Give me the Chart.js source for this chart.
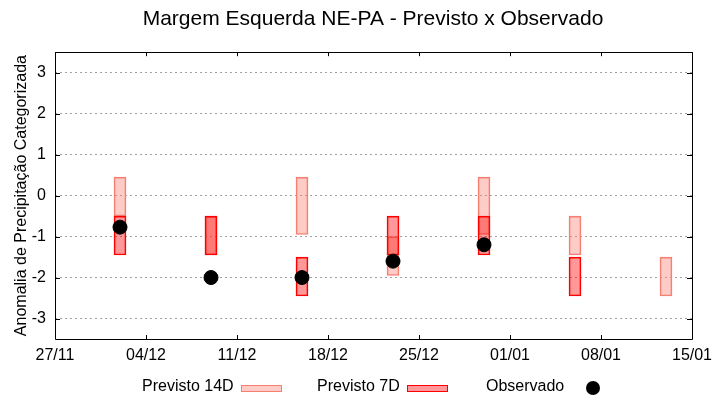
<!DOCTYPE html>
<html>
<head>
<meta charset="utf-8">
<script src="https://cdn.jsdelivr.net/npm/chart.js@4/dist/chart.umd.min.js"></script>
<style>
	body { margin: 0; background: #fff; }
	#grafico { display: block; }
</style>
</head>
<body>
<canvas id="grafico" width="720" height="400"></canvas>
<script>
// eixo x: dias desde 27/11
const rotulosX = ['27/11', '04/12', '11/12', '18/12', '25/12', '01/01', '08/01', '15/01'];
const ticksY = [-3, -2, -1, 0, 1, 2, 3];

const datas = ['02/12', '09/12', '16/12', '23/12', '30/12', '06/01', '13/01'];
const previsto14D = [[-0.5, 0.45], [-1.45, -0.5], [-0.95, 0.45], [-1.95, -1.0], [-0.95, 0.45], [-1.45, -0.5], [-2.45, -1.5]];
const previsto7D = [[-1.45, -0.5], [-1.45, -0.5], [-2.45, -1.5], [-1.45, -0.5], [-1.45, -0.5], [-2.45, -1.5], null];
const observado = [-0.77, -2.0, -2.0, -1.6, -1.2, null, null];

const diaDe = (txt) => {
	const [d, m] = txt.split('/').map(Number);
	const ano = m >= 11 ? 2023 : 2024;
	return Math.round((Date.UTC(ano, m - 1, d) - Date.UTC(2023, 10, 27)) / 86400000);
};
const serie = (vals) => datas.map((d, i) => vals[i] === null ? null : { x: diaDe(d), y: vals[i] }).filter(p => p);

const fonte = 'Liberation Sans, Arial, sans-serif';

// moldura com ticks para dentro (estilo gnuplot)
const moldura = {
	id: 'moldura',
	afterLayout(chart) {
		// titulo centrado sobre a area do grafico, como no gnuplot
		if (chart.titleBlock) {
			chart.titleBlock.left = 54;
			chart.titleBlock.right = 692;
		}
	},
	afterDraw(chart) {
		const { ctx, chartArea: a, scales } = chart;
		ctx.save();
		ctx.strokeStyle = '#000';
		ctx.lineWidth = 1;
		ctx.beginPath();
		ctx.rect(Math.round(a.left) + 0.5, Math.round(a.top) + 0.5, Math.round(a.right - a.left), Math.round(a.bottom - a.top));
		ctx.stroke();
		ctx.beginPath();
		scales.x.ticks.forEach(t => {
			const x = Math.round(scales.x.getPixelForValue(t.value)) + 0.5;
			ctx.moveTo(x, a.bottom); ctx.lineTo(x, a.bottom - 4);
			ctx.moveTo(x, a.top); ctx.lineTo(x, a.top + 4);
		});
		scales.y.ticks.forEach(t => {
			const y = Math.round(scales.y.getPixelForValue(t.value)) + 0.5;
			ctx.moveTo(a.left, y); ctx.lineTo(a.left + 5, y);
			ctx.moveTo(a.right, y); ctx.lineTo(a.right - 5, y);
		});
		ctx.stroke();

		// legenda embaixo: texto e depois a amostra
		const ds = chart.data.datasets;
		const itens = [
			{ txt: ds[0].label, x: 142, amostra: 241, d: ds[0] },
			{ txt: ds[1].label, x: 317, amostra: 407, d: ds[1] },
			{ txt: ds[2].label, x: 486, amostra: 586, d: ds[2] }
		];
		ctx.font = '16px ' + fonte;
		ctx.textBaseline = 'middle';
		itens.forEach(it => {
			ctx.fillStyle = '#000';
			ctx.fillText(it.txt, it.x, 387);
			if (it.d.type === 'scatter') {
				ctx.beginPath();
				ctx.arc(593, 388, 7, 0, Math.PI * 2);
				ctx.fill();
			} else {
				ctx.fillStyle = it.d.backgroundColor;
				ctx.fillRect(it.amostra, 385, 40, 6);
				ctx.strokeStyle = it.d.borderColor;
				ctx.strokeRect(it.amostra + 0.5, 385.5, 40, 6);
			}
		});
		ctx.restore();
	}
};

new Chart('grafico', {
	type: 'bar',
	data: {
		datasets: [
			{
				label: 'Previsto 14D',
				data: serie(previsto14D),
				backgroundColor: 'rgba(250,128,114,0.4)',
				borderColor: 'rgb(245,128,114)',
				borderWidth: 1,
				borderSkipped: false,
				barThickness: 12,
				grouped: false,
				order: 3
			},
			{
				label: 'Previsto 7D',
				data: serie(previsto7D),
				backgroundColor: 'rgba(255,0,0,0.4)',
				borderColor: '#ff0000',
				borderWidth: 1,
				borderSkipped: false,
				barThickness: 12,
				grouped: false,
				order: 2
			},
			{
				type: 'scatter',
				label: 'Observado',
				data: serie(observado),
				backgroundColor: '#000',
				borderColor: '#000',
				pointRadius: 7,
				pointHoverRadius: 7,
				order: 1
			}
		]
	},
	options: {
		responsive: false,
		animation: false,
		devicePixelRatio: 1,
		layout: { padding: { left: 0, right: 28, top: 0, bottom: 0 } },
		plugins: {
			legend: { display: false },
			tooltip: { enabled: false },
			title: {
				display: true,
				text: 'Margem Esquerda NE-PA - Previsto x Observado',
				color: '#000',
				font: { family: fonte, size: 21, weight: 'normal' },
				padding: { top: 7, bottom: 20 }
			}
		},
		scales: {
			x: {
				type: 'linear',
				min: 0,
				max: 49,
				offset: false,
				afterBuildTicks: (ax) => { ax.ticks = rotulosX.map((r, i) => ({ value: i * 7 })); },
				afterFit: (ax) => { ax.height = 61; },
				grid: { display: false, drawTicks: false },
				border: { display: false },
				ticks: {
					color: '#000',
					font: { family: fonte, size: 16 },
					padding: 7,
					maxRotation: 0,
					autoSkip: false,
					callback: (v) => rotulosX[v / 7]
				}
			},
			y: {
				min: -3.5,
				max: 3.5,
				afterBuildTicks: (ax) => { ax.ticks = ticksY.map(v => ({ value: v })); },
				afterFit: (ax) => { ax.width = 55; },
				grid: { color: '#a0a0a0', drawTicks: false, lineWidth: 1 },
				border: { display: false, dash: [2, 3] },
				ticks: {
					color: '#000',
					font: { family: fonte, size: 16 },
					padding: 9
				},
				title: {
					display: true,
					text: 'Anomalia de Precipitação Categorizada',
					color: '#000',
					font: { family: fonte, size: 16 },
					padding: { top: 12, bottom: 0 }
				}
			}
		}
	},
	plugins: [moldura]
});
</script>
</body>
</html>
